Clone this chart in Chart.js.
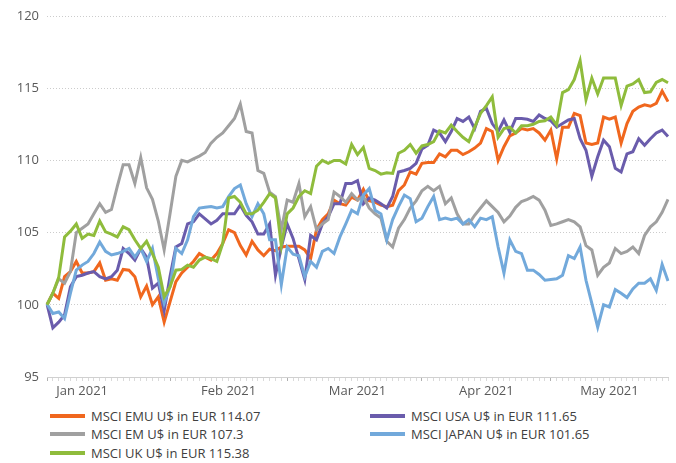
<!DOCTYPE html>
<html>
<head>
<meta charset="utf-8">
<script src="https://cdn.jsdelivr.net/npm/chart.js@4.4.1/dist/chart.umd.min.js"></script>
<style>
    body { margin: 0; background: #fff; font-family: 'Open Sans', sans-serif; }
    #wrap { position: relative; width: 676px; height: 463px; }
    #legend { position: absolute; left: 50px; top: 407px; width: 626px;
        display: grid; grid-template-columns: 320px 300px; row-gap: 1px; }
    .item { display: flex; align-items: center; height: 17.5px; font-size: 13px; color: #404040; white-space: nowrap; }
    .swatch { width: 35px; height: 4px; margin-right: 6px; }
</style>
</head>
<body>
<div id="wrap">
    <canvas id="chart" width="676" height="400"></canvas>
    <div id="legend"></div>
</div>
<script>
// series, one value per weekday, 1 Jan 2021 - 31 May 2021
const emu = [
    100.0, 100.8, 100.45, 101.95, 102.3, 103.0, 102.2, 102.2, 102.3, 102.9,
    101.7, 101.8, 101.7, 102.45, 102.4, 101.95, 100.55, 101.3, 100.0, 100.55,
    98.8, 100.2, 101.6, 102.2, 102.6, 103.0, 103.55, 103.3, 103.1, 103.55,
    104.25, 105.2, 105.0, 104.1, 103.45, 104.4, 103.8, 103.4, 103.85, 103.75,
    104.0, 104.05, 104.05, 104.05, 103.8, 103.2, 105.2, 105.9, 106.3, 107.25,
    107.0, 106.9, 107.45, 107.25, 108.0, 107.2, 107.1, 106.9, 106.8, 106.9,
    107.9, 108.3, 109.2, 109.05, 109.8, 109.85, 109.85, 110.45, 110.25, 110.7,
    110.7, 110.4, 110.6, 110.85, 111.2, 112.2, 112.0, 110.0, 110.95, 111.7,
    111.9, 112.2, 112.1, 112.2, 111.9, 111.4, 112.1, 110.1, 112.3, 112.3,
    113.25, 113.1, 111.2, 111.1, 111.2, 113.0, 112.85, 113.0, 111.2, 112.55,
    113.4, 113.7, 113.85, 113.75, 113.95, 114.8, 114.07
];
const usa = [
    100.05, 98.4, 98.8, 99.3, 101.25, 101.95, 102.05, 102.2, 102.3, 101.95,
    101.8, 101.95, 102.4, 103.9, 103.55, 103.1, 103.9, 103.3, 101.15, 101.5,
    99.6, 101.95, 104.0, 104.25, 105.6, 105.75, 106.3, 105.95, 105.6, 105.85,
    106.3, 106.3, 106.3, 106.9, 106.2, 105.75, 104.9, 104.9, 105.6, 102.05,
    104.0, 105.6, 104.6, 103.2, 101.75, 104.8, 104.5, 105.6, 106.1, 107.0,
    107.0, 108.4, 108.4, 108.6, 107.0, 107.4, 107.25, 107.0, 106.7, 107.5,
    109.2, 109.3, 109.45, 109.8, 110.8, 111.05, 112.1, 111.9, 111.3, 112.0,
    112.9, 112.7, 113.0, 112.2, 113.4, 113.6, 112.55, 112.0, 112.8, 111.95,
    112.9, 112.9, 112.85, 112.7, 113.15, 112.9, 112.75, 112.3, 112.55, 112.8,
    112.9, 111.5, 110.7, 108.9, 110.25, 111.4, 110.95, 109.45, 109.2, 110.45,
    110.6, 111.5, 111.05, 111.5, 111.9, 112.1, 111.65
];
const em = [
    100.0, 100.8, 101.8, 101.5, 102.3, 105.0, 105.3, 105.6, 106.3, 107.0,
    106.4, 106.6, 108.2, 109.7, 109.7, 108.4, 110.2, 108.1, 107.3, 105.8,
    103.8, 106.3, 108.9, 110.0, 109.9, 110.1, 110.3, 110.55, 111.2, 111.6,
    111.9, 112.4, 112.9, 113.9, 112.0, 111.9, 109.3, 109.1, 107.8, 107.5,
    105.2, 107.25, 107.1, 108.4, 106.1, 106.8, 105.2, 105.6, 105.9, 107.8,
    107.5, 107.1, 107.7, 107.25, 107.5, 106.7, 106.3, 106.0, 104.4, 104.0,
    105.3, 105.9, 106.7, 107.2, 107.9, 108.2, 107.9, 108.2, 107.0, 107.4,
    106.3, 105.6, 105.6, 106.2, 106.7, 107.2, 106.8, 106.4, 105.75, 106.15,
    106.75, 107.15, 107.3, 107.5, 107.25, 106.55, 105.5, 105.6, 105.75, 105.9,
    105.75, 105.4, 104.1, 103.8, 102.05, 102.6, 102.9, 103.9, 103.55, 103.7,
    104.0, 103.55, 104.8, 105.4, 105.75, 106.4, 107.3
];
const japan = [
    100.05, 99.4, 99.5, 99.05, 100.8, 102.4, 102.75, 103.0, 103.55, 104.35,
    103.7, 103.45, 103.55, 103.7, 103.9, 103.3, 103.9, 103.0, 103.9, 101.8,
    100.1, 101.25, 103.9, 103.55, 104.5, 106.1, 106.7, 106.75, 106.8, 106.7,
    106.8, 107.5, 108.05, 108.3, 107.0, 106.1, 107.0, 106.3, 104.5, 104.5,
    101.4, 104.0, 103.5, 103.4, 101.95, 103.0, 102.6, 103.7, 103.9, 103.55,
    104.7, 105.6, 106.55, 106.3, 107.6, 108.05, 106.55, 106.3, 104.5, 105.9,
    106.8, 107.6, 107.35, 105.75, 106.0, 106.8, 107.5, 105.9, 106.0, 105.9,
    106.0, 105.6, 105.9, 105.4, 106.0, 105.9, 106.1, 104.0, 102.2, 104.5,
    103.7, 103.55, 102.4, 102.4, 102.1, 101.7, 101.75, 101.8, 102.05, 103.4,
    103.2, 104.0, 101.7, 100.1, 98.45, 100.0, 99.85, 101.05, 100.8, 100.5,
    101.1, 101.5, 101.5, 101.8, 101.0, 102.8, 101.65
];
const uk = [
    100.0, 100.8, 101.9, 104.7, 105.1, 105.6, 104.6, 104.9, 104.8, 105.8,
    105.05, 104.9, 104.7, 105.4, 105.2, 104.5, 103.9, 104.4, 103.55, 102.6,
    100.55, 101.25, 102.4, 102.45, 102.75, 102.6, 103.1, 103.3, 103.2, 103.0,
    104.25, 107.4, 107.5, 107.1, 106.3, 106.3, 106.55, 107.1, 107.7, 107.4,
    104.1, 106.3, 106.7, 107.5, 107.9, 107.7, 109.6, 110.0, 109.8, 110.0,
    110.0, 109.75, 111.1, 110.4, 110.9, 109.45, 109.3, 109.05, 109.15, 109.1,
    110.5, 110.7, 111.1, 110.5, 111.0, 111.1, 111.3, 112.05, 111.9, 112.45,
    112.0, 111.6, 111.3, 112.3, 113.25, 113.8, 114.4, 111.6, 112.2, 112.3,
    111.9, 112.4, 112.4, 112.5, 112.7, 112.75, 113.0, 112.45, 114.7, 114.9,
    115.6, 116.9, 114.2, 115.7, 114.6, 115.7, 115.7, 115.7, 113.8, 115.15,
    115.3, 115.6, 114.7, 114.75, 115.4, 115.6, 115.38
];

const seriesNames = [
    "MSCI EMU U$ in EUR 114.07",
    "MSCI USA U$ in EUR 111.65",
    "MSCI EM U$ in EUR 107.3",
    "MSCI JAPAN U$ in EUR 101.65",
    "MSCI UK U$ in EUR 115.38"
];
const seriesColors = ["#f0671e", "#6a5cac", "#a0a0a0", "#72a9db", "#8fbc3c"];

// month labels and where they sit on the category axis
const monthLabels = ["Jan 2021", "Feb 2021", "Mar 2021", "Apr 2021", "May 2021"];
const monthLabelAt = [6, 31, 53, 75, 96];
const monthStartAt = [0, 21, 41, 64, 86];

const yTicks = [95, 100, 105, 110, 115, 120];

// weekday categories
const dates = [];
for (let d = new Date(Date.UTC(2021, 0, 1)); d <= new Date(Date.UTC(2021, 4, 31)); d.setUTCDate(d.getUTCDate() + 1)) {
    const wd = d.getUTCDay();
    if (wd !== 0 && wd !== 6) dates.push(d.toISOString().slice(0, 10));
}

Chart.defaults.font.family = "'Open Sans', sans-serif";
Chart.defaults.font.size = 12;
Chart.defaults.color = "#595959";

const values = [emu, usa, em, japan, uk];
const datasets = values.map((v, i) => ({
    label: seriesNames[i],
    data: v,
    borderColor: seriesColors[i],
    backgroundColor: seriesColors[i],
    borderWidth: 3,
    pointRadius: 0,
    tension: 0,
    fill: false,
    order: values.length - i
}));

new Chart(document.getElementById("chart"), {
    type: "line",
    data: { labels: dates, datasets: datasets },
    options: {
        responsive: false,
        animation: false,
        layout: { padding: { top: 16, right: 8, left: 0, bottom: 0 } },
        plugins: { legend: { display: false }, tooltip: { enabled: false } },
        scales: {
            x: {
                type: "category",
                offset: false,
                afterFit: (s) => { s.height = 23; },
                border: { display: true, color: "#d0d0d0", width: 1 },
                grid: {
                    drawOnChartArea: false,
                    drawTicks: true,
                    tickLength: 4,
                    tickColor: (ctx) => monthStartAt.includes(ctx.index) ? "#b0b0b0" : "#dadada"
                },
                ticks: {
                    autoSkip: false,
                    maxRotation: 0,
                    minRotation: 0,
                    padding: 2,
                    font: { size: 13 },
                    callback: (val, idx) => {
                        const k = monthLabelAt.indexOf(idx);
                        return k >= 0 ? monthLabels[k] : "";
                    }
                }
            },
            y: {
                min: yTicks[0],
                max: yTicks[yTicks.length - 1],
                afterFit: (s) => { s.width = 47; },
                afterBuildTicks: (s) => { s.ticks = yTicks.map(v => ({ value: v })); },
                border: { display: false, dash: [1, 2] },
                grid: {
                    drawTicks: false,
                    color: (ctx) => ctx.tick && ctx.tick.value === yTicks[0] ? "rgba(0,0,0,0)" : "#cccccc"
                },
                ticks: { padding: 8, font: { size: 13 } }
            }
        }
    }
});

// legend in two columns below the chart
const legend = document.getElementById("legend");
seriesNames.forEach((name, i) => {
    const item = document.createElement("div");
    item.className = "item";
    item.innerHTML = '<span class="swatch" style="background:' + seriesColors[i] + '"></span>' + name;
    legend.appendChild(item);
});
</script>
</body>
</html>
